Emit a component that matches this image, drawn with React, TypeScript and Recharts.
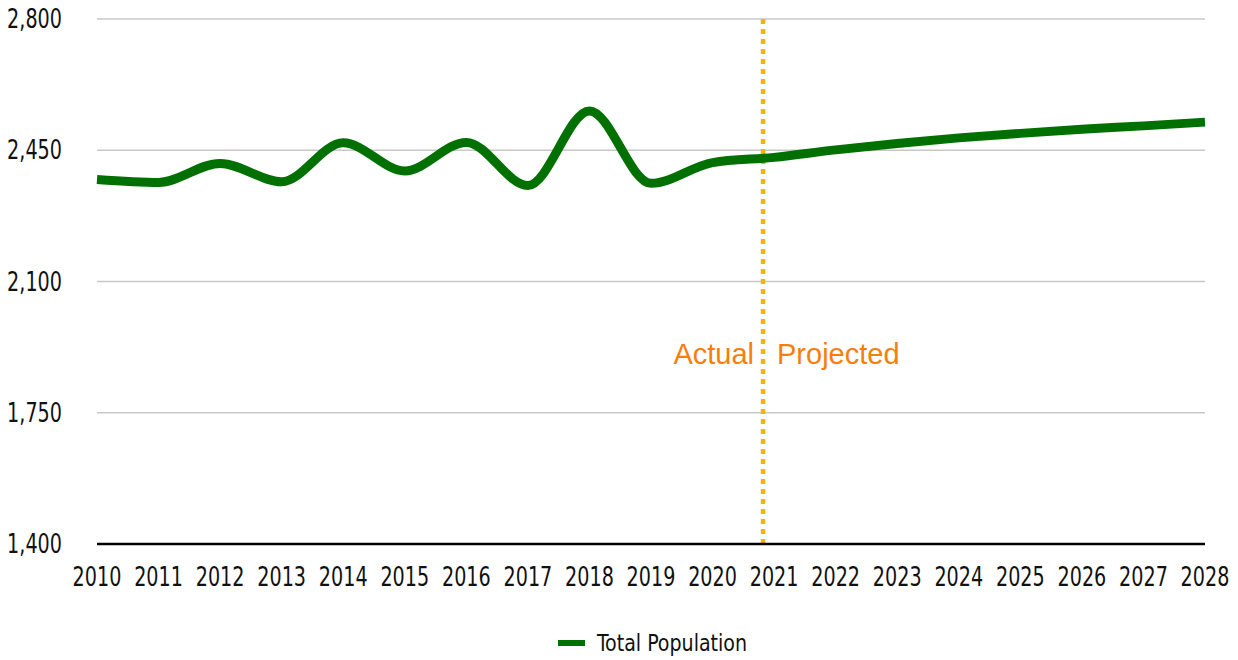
import React from 'react';
import { LineChart, Line, XAxis, YAxis, CartesianGrid, ReferenceLine, Legend } from 'recharts';

const years = [2010, 2011, 2012, 2013, 2014, 2015, 2016, 2017, 2018, 2019, 2020, 2021, 2022, 2023, 2024, 2025, 2026, 2027, 2028];
const population = [2372, 2364, 2415, 2366, 2470, 2395, 2471, 2356, 2555, 2362, 2417, 2431, 2451, 2468, 2483, 2495, 2506, 2515, 2525];
const yTicks = [1400, 1750, 2100, 2450, 2800];
const splitYear = 2020.82;

const data = years.map((year, i) => ({ year, population: population[i] }));

const FONT = '"DejaVu Sans Condensed", "DejaVu Sans", sans-serif';
const NARROW = 0.82; // squeeze the condensed font a bit more
const GREEN = '#007000';
const ORANGE = '#f57f0a';

const fmt = (v: number) => v.toLocaleString('en-US');

const XTick = ({ x, y, payload }: any) => (
    <text transform={`translate(${x},${y}) scale(${NARROW},1)`} textAnchor="middle" dy="0.71em" fontFamily={FONT} fontSize={26} fill="#111">
        {payload.value}
    </text>
);

const YTick = ({ x, y, payload }: any) => (
    <text transform={`translate(${x},${y}) scale(${NARROW},1)`} textAnchor="end" dy="0.355em" fontFamily={FONT} fontSize={26} fill="#111">
        {fmt(payload.value)}
    </text>
);

// two labels either side of the split line
const SplitLabel = ({ viewBox }: any) => {
    if (!viewBox) return null;
    const x = viewBox.x;
    const y = 354;
    return (
        <g fontFamily='"Liberation Sans", Arial, sans-serif' fontSize={29} fill={ORANGE}>
            <text x={x - 9} y={y} textAnchor="end" dominantBaseline="central">Actual</text>
            <text x={x + 14} y={y} textAnchor="start" dominantBaseline="central">Projected</text>
        </g>
    );
};

const LegendContent = () => (
    <div style={{ height: 46, display: 'flex', justifyContent: 'flex-start', alignItems: 'center', paddingTop: 12, paddingLeft: 558, boxSizing: 'border-box', fontFamily: FONT, fontSize: 23, color: '#111' }}>
        <span style={{ display: 'inline-block', width: 27, height: 6, background: GREEN, marginRight: 12 }} />
        <span style={{ display: 'inline-block', transform: 'scaleX(0.92)', transformOrigin: 'left center', whiteSpace: 'nowrap' }}>Total Population</span>
    </div>
);

export default function App() {
    return (
        <div style={{ width: 1238, height: 660, background: '#fff' }}>
            <style>{`body{margin:0}`}</style>
            <LineChart width={1238} height={660} data={data} margin={{ top: 19, right: 33, bottom: 0, left: 0 }}>
                <CartesianGrid vertical={false} stroke="#c8c8c8" strokeWidth={1.3} />
                <XAxis
                    dataKey="year"
                    type="number"
                    domain={[2010, 2028]}
                    ticks={years}
                    interval={0}
                    height={70}
                    axisLine={{ stroke: '#000', strokeWidth: 2.3 }}
                    tickLine={false}
                    tickSize={0}
                    tickMargin={24}
                    tick={<XTick />}
                />
                <YAxis
                    domain={[1400, 2800]}
                    ticks={yTicks}
                    width={97}
                    axisLine={false}
                    tickLine={false}
                    tickSize={0}
                    tickMargin={35}
                    tick={<YTick />}
                />
                <Legend verticalAlign="bottom" content={<LegendContent />} />
                <ReferenceLine x={splitYear} stroke="#ffb000" strokeWidth={4.5} strokeDasharray="5 5" label={<SplitLabel />} />
                <Line
                    type="monotone"
                    dataKey="population"
                    name="Total Population"
                    stroke={GREEN}
                    strokeWidth={9}
                    dot={false}
                    activeDot={false}
                    isAnimationActive={false}
                />
            </LineChart>
        </div>
    );
}
